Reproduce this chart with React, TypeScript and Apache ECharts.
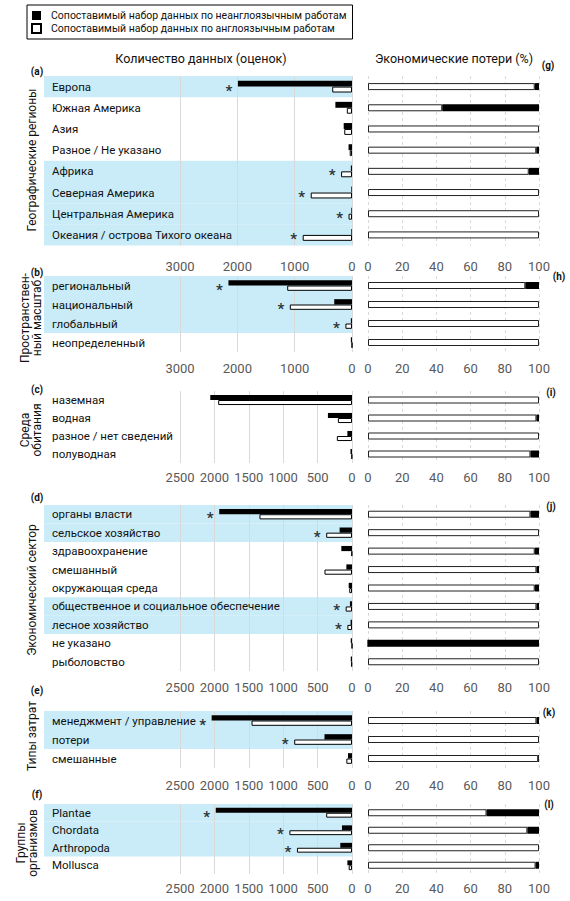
import React, { useEffect, useRef } from "react";
import * as echarts from "echarts";

const NAME_NON = "Сопоставимый набор данных по неанглоязычным работам";
const NAME_ENG = "Сопоставимый набор данных по англоязычным работам";
const TITLE_LEFT = "Количество данных (оценок)";
const TITLE_RIGHT = "Экономические потери (%)";

// (a)/(g) Geographic regions
const regionCats = ["Европа", "Южная Америка", "Азия", "Разное / Не указано", "Африка", "Северная Америка", "Центральная Америка", "Океания / острова Тихого океана"];
const regionNonEng = [1990, 290, 145, 60, 20, 12, 12, 12];
const regionEng = [345, 90, 135, 40, 190, 720, 60, 860];
const regionSig = [1, 0, 0, 0, 1, 1, 1, 1];
const regionLossNonEng = [2.5, 56.6, 0, 1.6, 6, 0, 0, 0];

// (b)/(h) Spatial scale
const scaleCats = ["региональный", "национальный", "глобальный", "неопределенный"];
const scaleNonEng = [2155, 310, 20, 20];
const scaleEng = [1130, 1085, 115, 0];
const scaleSig = [1, 1, 1, 0];
const scaleLossNonEng = [8, 0, 0, 0];

// (c)/(i) Habitat
const habitatCats = ["наземная", "водная", "разное / нет сведений", "полуводная"];
const habitatNonEng = [2060, 350, 67, 22];
const habitatEng = [1945, 205, 220, 5];
const habitatSig = [0, 0, 0, 0];
const habitatLossNonEng = [0, 1.5, 0, 5];

// (d)/(j) Economic sector
const sectorCats = ["органы власти", "сельское хозяйство", "здравоохранение", "смешанный", "окружающая среда", "общественное и социальное обеспечение", "лесное хозяйство", "не указано", "рыболовство"];
const sectorNonEng = [1930, 180, 155, 82, 48, 30, 20, 18, 18];
const sectorEng = [1345, 375, 5, 400, 40, 92, 67, 0, 10];
const sectorSig = [1, 1, 0, 0, 0, 1, 1, 0, 0];
const sectorLossNonEng = [5, 0, 2.5, 1.5, 2.5, 1.5, 0, 100, 0];

// (e)/(k) Cost types
const costCats = ["менеджмент / управление", "потери", "смешанные"];
const costNonEng = [2040, 400, 58];
const costEng = [1460, 840, 82];
const costSig = [1, 1, 0];
const costLossNonEng = [1.5, 0, 0.5];

// (f)/(l) Taxonomic groups
const taxonCats = ["Plantae", "Chordata", "Arthropoda", "Mollusca"];
const taxonNonEng = [1980, 146, 170, 67];
const taxonEng = [375, 910, 800, 48];
const taxonSig = [1, 1, 1, 0];
const taxonLossNonEng = [30.7, 6.8, 0, 2];

const FONT = "Roboto";
const BAND = "#c9ecf8";

const panels = [
  { cats: regionCats, nonEng: regionNonEng, eng: regionEng, sig: regionSig, loss: regionLossNonEng, max: 3000, interval: 1000, top: 76, height: 169.5, labelMargin: 14, gap: "44%",
    name: "Географические регионы", nameX: 32, nameY: 160, letterL: "(a)", lly: 71, letterR: "(g)", lrx: 548, lry: 65 },
  { cats: scaleCats, nonEng: scaleNonEng, eng: scaleEng, sig: scaleSig, loss: scaleLossNonEng, max: 3000, interval: 1000, top: 276, height: 76, labelMargin: 10, gap: "44%",
    name: "Пространствен-\nный масштаб", nameX: 31, nameY: 318, letterL: "(b)", lly: 272, letterR: "(h)", lrx: 559, lry: 276 },
  { cats: habitatCats, nonEng: habitatNonEng, eng: habitatEng, sig: habitatSig, loss: habitatLossNonEng, max: 2500, interval: 500, top: 391, height: 72, labelMargin: 8, gap: "44%",
    name: "Среда\nобитания", nameX: 31, nameY: 430, letterL: "(c)", lly: 389, letterR: "(i)", lrx: 551, lry: 392 },
  { cats: sectorCats, nonEng: sectorNonEng, eng: sectorEng, sig: sectorSig, loss: sectorLossNonEng, max: 2500, interval: 500, top: 505, height: 166, labelMargin: 10, gap: "44%",
    name: "Экономический сектор", nameX: 32, nameY: 590, letterL: "(d)", lly: 497, letterR: "(j)", lrx: 551, lry: 506 },
  { cats: costCats, nonEng: costNonEng, eng: costEng, sig: costSig, loss: costLossNonEng, max: 2500, interval: 500, top: 711, height: 57, labelMargin: 11, gap: "44%",
    name: "Типы затрат", nameX: 32, nameY: 736, letterL: "(e)", lly: 690, letterR: "(k)", lrx: 549, lry: 712 },
  { cats: taxonCats, nonEng: taxonNonEng, eng: taxonEng, sig: taxonSig, loss: taxonLossNonEng, max: 2500, interval: 500, top: 804, height: 70, labelMargin: 8, gap: "44%",
    name: "Группы\nорганизмов", nameX: 27, nameY: 843, letterL: "(f)", lly: 794, letterR: "(l)", lrx: 549, lry: 804 },
];

function buildOption() {
  const grid: any[] = [];
  const xAxis: any[] = [];
  const yAxis: any[] = [];
  const series: any[] = [];
  const graphic: any[] = [];

  const tickLabel = (margin: number) => ({ color: "#595959", fontSize: 13, fontFamily: FONT, margin, formatter: (v: number) => String(v) });

  panels.forEach((p, i) => {
    const gB = grid.length;
    grid.push({ left: 44, right: 218, top: p.top, height: p.height });
    const gL = grid.length;
    grid.push({ left: 180, right: 218, top: p.top, height: p.height });
    const gR = grid.length;
    grid.push({ left: 368, right: 31, top: p.top, height: p.height });

    xAxis.push({ gridIndex: gB, type: "value", min: 0, max: 1, show: false });
    yAxis.push({ gridIndex: gB, type: "category", data: p.cats, inverse: true, show: false });
    xAxis.push({
      gridIndex: gL, type: "value", min: 0, max: p.max, interval: p.interval, inverse: true, z: 1,
      axisLine: { show: false }, axisTick: { show: false },
      splitLine: { show: true, lineStyle: { color: "#d9d9d9", width: 1 } },
      axisLabel: tickLabel(p.labelMargin),
    });
    yAxis.push({
      gridIndex: gL, type: "category", data: p.cats, inverse: true, z: 3,
      axisLine: { show: false, onZero: false }, axisTick: { show: false },
      axisLabel: { align: "left", margin: 128, color: "#111", fontSize: 11.5, fontFamily: FONT },
    });
    xAxis.push({
      gridIndex: gR, type: "value", min: 0, max: 100, interval: 20,
      axisLine: { show: false }, axisTick: { show: false },
      splitLine: { show: true, lineStyle: { color: "#d9d9d9", width: 1, type: [3, 3] } },
      axisLabel: tickLabel(p.labelMargin),
    });
    yAxis.push({ gridIndex: gR, type: "category", data: p.cats, inverse: true, show: false, axisLine: { onZero: false } });

    series.push({
      type: "bar", xAxisIndex: gB, yAxisIndex: gB, silent: true, z: 0,
      barWidth: "100%", itemStyle: { color: BAND },
      data: p.sig.map((s) => (s ? 1 : 0)),
    });
    series.push({
      name: NAME_NON, type: "bar", xAxisIndex: gL, yAxisIndex: gL, z: 2,
      barGap: "0%", barCategoryGap: p.gap,
      itemStyle: { color: "#000" },
      data: p.nonEng,
    });
    series.push({
      name: NAME_ENG, type: "bar", xAxisIndex: gL, yAxisIndex: gL, z: 2,
      barGap: "0%", barCategoryGap: p.gap,
      itemStyle: { color: "#fff", borderColor: "#000", borderWidth: 1 },
      data: p.eng,
    });
    series.push({
      type: "scatter", xAxisIndex: gL, yAxisIndex: gL, silent: true, z: 4,
      symbolSize: 1, itemStyle: { color: "rgba(0,0,0,0)" },
      label: { show: true, formatter: "*", position: "inside", offset: [-9, 4], color: "#000", fontSize: 15, fontWeight: "bold", fontFamily: FONT },
      data: p.cats.map((c, j) => (p.sig[j] ? [Math.max(p.nonEng[j], p.eng[j]), c] : null)).filter((d) => d !== null),
    });
    series.push({
      type: "bar", xAxisIndex: gR, yAxisIndex: gR, stack: "loss" + i, barWidth: 7, z: 2,
      itemStyle: { color: "#fff", borderColor: "#222", borderWidth: 1 },
      data: p.loss.map((v) => 100 - v),
    });
    series.push({
      type: "bar", xAxisIndex: gR, yAxisIndex: gR, stack: "loss" + i, barWidth: 7, z: 2,
      itemStyle: { color: "#000" },
      data: p.loss,
    });

    graphic.push({
      type: "text", x: p.nameX, y: p.nameY, rotation: Math.PI / 2,
      style: { text: p.name, align: "center", verticalAlign: "middle", textAlign: "center", textVerticalAlign: "middle", fontSize: 12, lineHeight: 12.5, fontFamily: FONT, fill: "#111" },
    });
    graphic.push({
      type: "text", x: 37, y: p.lly,
      style: { text: p.letterL, align: "center", verticalAlign: "middle", textAlign: "center", textVerticalAlign: "middle", fontSize: 10, fontWeight: "bold", fontFamily: FONT, fill: "#111" },
    });
    graphic.push({
      type: "text", x: p.lrx, y: p.lry,
      style: { text: p.letterR, align: "center", verticalAlign: "middle", textAlign: "center", textVerticalAlign: "middle", fontSize: 10, fontWeight: "bold", fontFamily: FONT, fill: "#111" },
    });
  });

  graphic.push({
    type: "text", x: 201, y: 58,
    style: { text: TITLE_LEFT, align: "center", verticalAlign: "middle", textAlign: "center", textVerticalAlign: "middle", fontSize: 12.5, fontFamily: FONT, fill: "#111" },
  });
  graphic.push({
    type: "text", x: 454, y: 58,
    style: { text: TITLE_RIGHT, align: "center", verticalAlign: "middle", textAlign: "center", textVerticalAlign: "middle", fontSize: 12.5, fontFamily: FONT, fill: "#111" },
  });

  return {
    animation: false,
    backgroundColor: "#fff",
    legend: {
      left: 27, top: 5, orient: "vertical", icon: "rect",
      itemWidth: 9, itemHeight: 9, itemGap: 2,
      padding: [5, 6, 5, 4],
      borderColor: "#000", borderWidth: 1,
      selectedMode: false,
      textStyle: { fontSize: 10.5, fontFamily: FONT, color: "#111", padding: [0, 0, 0, 5] },
      data: [NAME_NON, NAME_ENG],
    },
    grid, xAxis, yAxis, series, graphic,
  };
}

export default function App() {
  const ref = useRef<HTMLDivElement>(null);
  useEffect(() => {
    document.body.style.margin = "0";
    const chart = echarts.init(ref.current as HTMLDivElement, null, { renderer: "svg" });
    chart.setOption(buildOption() as any);
    return () => chart.dispose();
  }, []);
  return <div ref={ref} style={{ width: 570, height: 901 }} />;
}
